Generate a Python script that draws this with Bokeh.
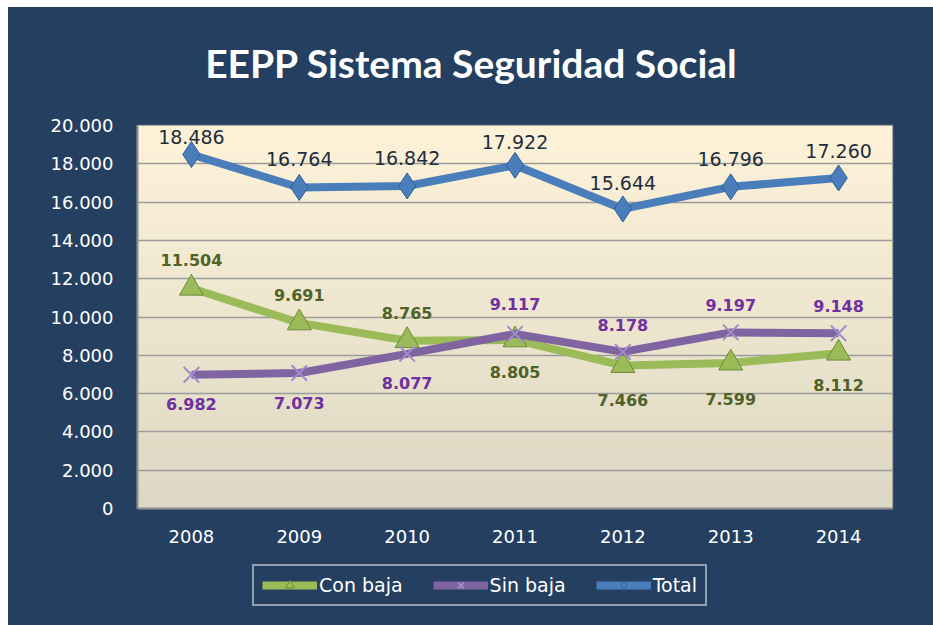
import numpy as np
from bokeh.plotting import figure
from bokeh.layouts import column
from bokeh.models import (FactorRange, FixedTicker, ColumnDataSource, LabelSet,
                          Label, Legend, LegendItem, Range1d)
from bokeh.core.properties import value
from bokeh.embed import file_html
from bokeh.resources import INLINE

years = ["2008", "2009", "2010", "2011", "2012", "2013", "2014"]
con_baja = [11504, 9691, 8765, 8805, 7466, 7599, 8112]
sin_baja = [6982, 7073, 8077, 9117, 8178, 9197, 9148]
total = [18486, 16764, 16842, 17922, 15644, 16796, 17260]
y_ticks = [0, 2000, 4000, 6000, 8000, 10000, 12000, 14000, 16000, 18000, 20000]
title_text = "EEPP Sistema Seguridad Social"

# data-label placement (pixels above + / below - the point)
con_label_off = [28, 28, 28, -32, -34, -36, -32]
sin_label_off = [-29, -30, -29, 30, 27, 27, 27]
tot_label_off = [17, 28, 28, 23, 26, 28, 27]

NAVY = "#243F60"
FONT = "DejaVu Sans"
LEFT, RIGHT = 129, 41

def fmt(v):
    return f"{v:,}".replace(",", ".")

def strip(h):
    f = figure(x_range=Range1d(0, 1), y_range=Range1d(0, 1), width=925, height=h,
               output_backend="svg", toolbar_location=None,
               x_axis_type=None, y_axis_type=None,
               min_border_left=LEFT, min_border_right=RIGHT, min_border_top=0,
               min_border_bottom=0)
    f.background_fill_color = NAVY
    f.border_fill_color = NAVY
    f.outline_line_color = None
    f.grid.visible = False
    return f

# title strip
tf = strip(103)
tf.add_layout(Label(x=334, y=48, x_units="screen", y_units="screen",
                    text=title_text, text_font="Lato", text_font_style="bold",
                    text_font_size="39px", text_color="white",
                    text_align="center", text_baseline="alphabetic"))

p = figure(x_range=FactorRange(*years, range_padding=0), y_range=Range1d(0, 20000),
           width=925, height=443, output_backend="svg", toolbar_location=None,
           min_border_left=LEFT, min_border_right=RIGHT, min_border_top=15,
           min_border_bottom=45)
p.x_range.factor_padding = 0
p.background_fill_color = "#F0E8D2"
p.border_fill_color = NAVY
p.outline_line_color = "#8C8C8C"
p.outline_line_width = 1.5

# gradient background of plot area
n = 200
top = np.array([254, 243, 217])
bot = np.array([221, 216, 196])
t = np.linspace(0, 1, n)[:, None]
cols = (bot * (1 - t) + top * t).astype(np.uint8)
img = np.zeros((n, 1), dtype=np.uint32)
view = img.view(dtype=np.uint8).reshape((n, 1, 4))
view[:, 0, 0] = cols[:, 0]
view[:, 0, 1] = cols[:, 1]
view[:, 0, 2] = cols[:, 2]
view[:, 0, 3] = 255
p.image_rgba(image=[img], x=0, y=0, dw=len(years), dh=20000, level="image")

p.xgrid.grid_line_color = None
p.ygrid.grid_line_color = "#9C9C9C"
p.ygrid.grid_line_width = 1.5
p.yaxis.ticker = FixedTicker(ticks=y_ticks)
p.yaxis.major_label_overrides = {v: fmt(v) for v in y_ticks}
for ax in (p.xaxis, p.yaxis):
    ax.major_label_text_color = "white"
    ax.major_label_text_font = FONT
    ax.major_label_text_font_size = "18px"
    ax.major_tick_line_color = None
    ax.minor_tick_line_color = None
    ax.axis_line_color = "#8C8C8C"
    ax.axis_line_width = 2
p.yaxis.major_label_standoff = 18
p.xaxis.major_label_standoff = 15

series = [
    ("Con baja", con_baja, con_label_off, "#9BBB59", "triangle", "#4F6228", "bold", "16px"),
    ("Sin baja", sin_baja, sin_label_off, "#8064A2", "x", "#7030A0", "bold", "16px"),
    ("Total", total, tot_label_off, "#4A7EBB", "diamond", "#1F2D3D", "normal", "19px"),
]

def marker_kw(marker):
    if marker == "x":
        return dict(marker="x", size=22, line_color="#A08CC8", line_width=2)
    if marker == "triangle":
        return dict(marker="triangle", size=24, fill_color="#9BBB59",
                    line_color="#6E8A3A", line_width=1)
    return dict(marker="diamond", size=26, fill_color="#4A7EBB",
                line_color="#2F5F98", line_width=1)

# legend strip below the chart
lf = strip(72)

items = []
for name, vals, offs, color, marker, lcol, lstyle, lsize in series:
    src = ColumnDataSource(dict(x=years, y=vals, txt=[fmt(v) for v in vals],
                                off=offs))
    p.line("x", "y", source=src, line_color=color, line_width=8)
    p.scatter("x", "y", source=src, **marker_kw(marker))
    p.add_layout(LabelSet(x="x", y="y", text="txt", source=src, y_offset="off",
                          text_align="center", text_baseline="middle",
                          text_font=value(FONT), text_font_style=value(lstyle),
                          text_font_size=value(lsize), text_color=value(lcol)))
    # legend entries: same styles, no visible points of their own
    empty = ColumnDataSource(dict(x=[np.nan], y=[np.nan]))
    l1 = lf.line("x", "y", source=empty, line_color=color, line_width=8)
    l2 = lf.scatter("x", "y", source=empty, **marker_kw(marker))
    items.append(LegendItem(label=name, renderers=[l1, l2]))

legend = Legend(items=items, orientation="horizontal", location=(115, 19),
                background_fill_color=NAVY, background_fill_alpha=1,
                border_line_color="white", border_line_width=2,
                label_text_color="white", label_text_font=FONT,
                label_text_font_size="19px", glyph_width=55, glyph_height=22,
                label_standoff=2, spacing=30, padding=8, margin=0)
lf.add_layout(legend, "center")

layout = column(tf, p, lf, spacing=0, styles={"background-color": NAVY})
layout.margin = (7, 0, 0, 8)

open("out.html", "w").write(file_html(layout, INLINE))
